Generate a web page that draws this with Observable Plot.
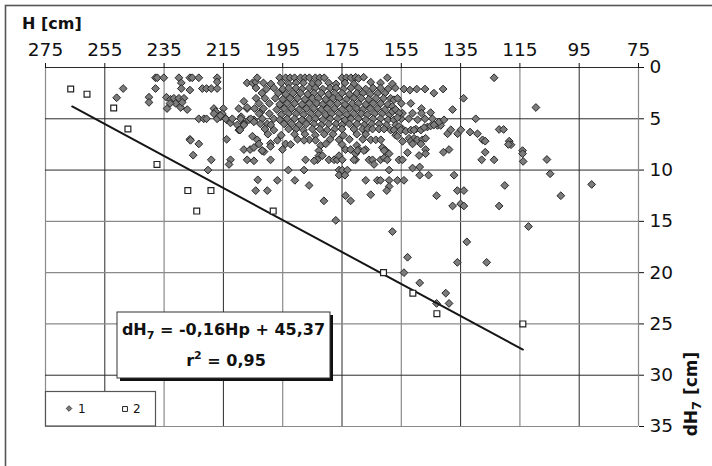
<!DOCTYPE html>
<html><head><meta charset="utf-8">
<script src="https://cdn.jsdelivr.net/npm/d3@7"></script>
<script src="https://cdn.jsdelivr.net/npm/@observablehq/plot@0.6"></script>
<style>body{margin:0;background:#fff} svg{display:block}</style>
</head><body><div id="chart"></div>
<script>
// ---- tick labels / grid ----
const xTicks = [275,255,235,215,195,175,155,135,115,95,75];
const yTicks = [0,5,10,15,20,25,30,35];
const xGridDark = [255,215,175,135,95];
const xGridLight = [275,235,195,155,115,75];
const yGridDark = [0,5,10,30];
const yGridLight = [15,20,25,35];

// ---- texts ----
const xLabel = "H [cm]";
const yLabelMain = "dH", yLabelSub = "7", yLabelTail = " [cm]";
const eqMain = "dH", eqSub = "7", eqTail = " = -0,16Hp + 45,37";
const r2Main = "r", r2Sup = "2", r2Tail = " = 0,95";
const legendNames = ["1", "2"];

// ---- series 2 (squares) [H, dH] ----
const series2 = [[266.5,2.1],[261,2.6],[252,3.95],[247.2,6.0],[237.4,9.45],[227,12.0],[219.2,12.0],[224,14.0],[198.2,14.0],[161,20.0],[151.1,22.0],[143,24.0],[114,25.0]];

// ---- trend line (read endpoints) ----
const trendH = [266, 114];
const trendDH = [3.8, 27.5];

// ---- series 1 (diamonds) [H, dH] ----
const series1Left = [
[251,2.95],[248.8,2.05],[240.1,2.9],[240.1,3.4],[237.9,1.0],[237.3,1.0],[235.1,1.0],[237.9,2.05],
[234.2,2.9],[234.0,4.0],[232.8,3.1],[231.7,3.0],[231.1,3.5],[230.0,3.0],[229.4,3.9],[228.3,3.0],[228.9,3.4],[233.0,3.5],
[230.0,1.0],[229.2,1.5],[229.2,2.05],[226.3,1.0],[225.5,1.0],[223.3,1.0],[226.3,2.2],[222.1,2.05],[220.7,2.05],[219.1,2.05],[217.1,2.05],[217.1,1.0],[217.1,1.4],
[227.2,4.1],[223.3,5.0],[221.6,5.0],[220.7,5.0],
[218.2,4.0],[217.6,4.3],[215.9,4.8],[215.0,4.0],[214.8,4.8],[217.1,5.0],[213.9,5.1],[212.6,5.4],[210.3,5.6],[209.8,6.1],[209.0,4.8],[209.8,4.0],[208.1,3.3],[207.0,4.0],[207.0,1.5],[205.2,1.5],[204.1,1.4],[203.6,1.0],
[218.2,4.5],[215.4,4.5],[216.0,4.7],[214.2,5.0],[212.0,5.0],[209.2,5.0],[208.1,5.5],
[206.4,5.1],[204.7,5.1],[208.1,5.6],[209.4,6.1],[205.2,6.7],[203.6,7.05],[205.8,5.0],[204.7,5.3],[201.9,5.0],[200.2,5.5],[202.4,4.35],[207.0,3.9],
[226.3,7.0],[223.3,7.45],[213.9,7.0],[226.1,7.1],[225.2,8.55],[219.1,9.0],[220.2,10.0],[212.6,9.0],[213.1,9.45],
[208.1,8.0],[206.0,8.0],[204.7,7.8],[207.0,9.0],[203.4,10.95],[204.1,12.0],[204.7,9.1],[201.3,8.2],[199.1,7.4],[199.1,9.0],[196.8,7.1],[195.1,8.0],[202.0,8.1]
];
const series1Core = [
[196,1],[194,1],[192.5,1],[191,1],[189,1],[187.5,1],[186,1],[184,1],[182.5,1],[181,1],[175,1],[173.5,1],[172,1],[170.4,0.95],[169.4,1.07],[167.7,0.95],[165.3,1.43],[159.7,1.0],
[201.5,1.5],[199,1.6],[195.5,1.5],[193,1.6],[190.5,1.5],[188,1.5],[185,1.6],[183,1.5],[179.5,1.5],[177,1.6],[174,1.5],[171,1.6],[162,1.5],[158,1.6],
[204,2],[200.5,2.1],[198,2],[195,2.1],[193,2],[190.5,2],[188.5,2.1],[186,2],[184,2],[181.5,2.1],[179,2],[177,2],[174.5,2.1],[172,2],[169.5,2],[167,2.1],[164.5,2],[162,2],[159.5,2.1],[157,2],
[202,2.5],[196.5,2.5],[194,2.6],[191.5,2.5],[189,2.5],[186.5,2.6],[184.5,2.5],[182,2.5],[179.5,2.6],[177.5,2.5],[175,2.5],[172.5,2.6],[170,2.5],[168,2.5],[165.5,2.6],[163,2.5],[160.5,2.5],
[204,3],[201,3],[197.5,3],[195,3.1],[192.5,3],[190,3],[187.5,3.1],[185,3],[183,3],[180.5,3.1],[178,3],[176,3],[173.5,3.1],[171,3],[168.5,3],[166,3.1],[163.5,3],[161,3],
[203,3.5],[199.5,3.5],[196,3.6],[193.5,3.5],[191,3.5],[188.5,3.6],[186,3.5],[183.5,3.5],[181.5,3.6],[179,3.5],[176.5,3.5],[174,3.6],[171.5,3.5],[169.5,3.5],[167,3.6],[164.5,3.5],[162,3.5],[159.5,3.6],[155,3.5],
[204.5,4],[201.5,4],[197,4.1],[194.5,4],[192,4],[189.5,4.1],[187,4],[184.5,4],[182,4.1],[180,4],[177.5,4],[175,4.1],[172.5,4],[170,4],[168,4.1],[165.5,4],[163,4],[160.5,4.1],
[203,4.5],[199.5,4.5],[195.5,4.6],[193,4.5],[190.5,4.5],[188,4.6],[185.5,4.5],[183,4.5],[180.5,4.6],[178.5,4.5],[176,4.5],[173.5,4.6],[171,4.5],[168.5,4.5],[166.5,4.6],[164,4.5],[161.5,4.5],[159,4.6],
[198,5],[196,5.1],[193.5,5],[191,5],[188.5,5.1],[186,5],[184,5],[181.5,5.1],[179,5],[176.5,5],[174,5.1],[172,5],[169.5,5],[167,5.1],[164.5,5],[162,5],[159.5,5.1],[155,5],[152.5,5],[149.5,5.1],[147,5],[144.5,5],
[202.5,5.5],[199,5.6],[194.5,5.5],[192,5.5],[189.5,5.6],[187,5.5],[184.5,5.5],[182,5.6],[179.5,5.5],[177,5.5],[175,5.6],[172.5,5.5],[170,5.5],[167.5,5.6],[165,5.5],[162.5,5.5],[160,5.6],
[201,6],[198,6.1],[193,6],[190.5,6],[188,6.1],[185,6],[182.5,6],[180,6.1],[177.5,6],[175,6],[171,6],[168.1,6],[166.4,6],[164.7,6],[162.5,6],[160.8,6],[158.6,6.1],[154.6,6],[150.1,6],[146.2,5.8],[142.8,5.65],[141.7,5.65],
[200,6.5],[195.5,6.6],[191,6.5],[187.5,6.5],[184,6.6],[181,6.5],[178,6.5],[174.5,6.6],[170,6.5],[167,6.5],
[190,7],[186,7.05],[179,7],[176,7.05],[172.5,7],[168,7],[165.3,7.05],[163.6,7.05],[161.9,7.05],
[175,7.5],[170,7.6]
];
const series1Mid = [
[203.0,7.45],[199.1,7.7],[201.9,8.1],[194.0,7.45],[192.3,7.5],[187.8,7.1],[183.9,7.1],[182.2,7.6],[180.5,7.45],[182.8,8.1],[182.8,8.6],[181.6,8.6],
[187.3,9.0],[183.3,9.0],[184.4,9.1],[179.4,9.0],[177.7,9.0],[176.6,9.0],[176.0,8.6],[174.9,9.0],[173.8,8.0],[172.1,8.0],[170.4,8.4],[169.3,8.0],[167.0,8.0],
[170.4,9.0],[165.9,9.0],[164.7,9.0],[164.2,9.45],[162.0,9.0],[160.8,8.8],[159.7,9.0],[161.4,7.8],[160.3,8.1],[159.1,8.4],
[169.8,8.1],[167.6,8.1],[160.8,8.1],[171.0,9.0],[155.8,9.0],[154.6,9.0],
[193.1,10.0],[187.8,10.0],[176.0,10.0],[174.9,10.0],[173.2,10.0],[159.1,10.0],[176.0,10.5],[174.0,10.5],
[196.8,11.0],[190.9,11.0],[186.1,11.5],[200.2,12.0],
[167.0,11.0],[163.1,11.0],[162.0,11.0],[159.1,11.0],[156.3,11.0],[154.1,11.0],[159.1,11.6],[159.9,12.0],[165.3,12.4],[173.8,12.5],[172.1,13.0],[181.1,13.0],[177.1,14.9]
];
const series1Right = [
[123.7,1.0],
[154.1,2.1],[152.1,2.2],[149.8,2.1],[147.0,2.1],[144.0,2.5],[140.9,2.1],
[134.0,3.0],[151.8,3.5],[148.2,4.0],[148.2,4.45],[145.1,4.4],[137.7,4.1],[129.9,5.0],[151.2,4.45],[154.6,4.45],[109.6,3.9],
[158.6,3.0],[157.5,3.15],[156.3,3.0],[158.0,3.8],[158.0,4.3],[156.9,4.1],[155.8,4.45],
[157.5,5.1],[156.3,4.9],[156.9,5.6],[155.8,5.75],[157.5,6.1],[155.2,6.1],[153.5,6.2],[151.8,6.1],[150.7,6.1],[148.4,6.1],[147.3,5.85],[145.1,5.7],[144.0,5.6],[142.3,5.3],[140.6,5.1],
[156.9,6.6],[156.3,6.7],[154.6,7.2],[152.4,6.9],[150.7,6.9],[151.8,7.2],[149.6,7.05],[147.9,7.05],[146.8,6.9],[151.2,7.45],[148.4,7.45],
[139.4,6.46],[138.3,6.07],[136.0,6.46],[134.9,6.07],[131.8,6.3],[129.3,6.46],[127.6,7.05],[126.7,7.18],[122.0,6.04],[120.5,6.04],[118.6,7.18],[118.0,7.53],[118.9,7.5],
[126.7,8.26],[127.9,9.0],[123.7,9.0],[114.1,8.1],[114.1,8.4],[113.9,9.16],[105.9,8.97],[104.8,10.36],[140.8,8.26],[138.9,8.0],
[152.9,8.3],[149.0,8.58],[146.8,8.0],[146.8,8.4],[151.2,9.8],[148.8,9.7],[148.8,10.5],[145.8,10.5]
];
const series1Low = [
[137.2,10.5],[136.1,12.0],[133.9,12.0],[135.0,13.3],[133.9,13.5],[137.7,13.5],[143.1,12.5],[122.0,13.5],[120.1,11.5],[90.8,11.4],[101.2,12.5],[112.1,15.5],
[132.9,17.0],[158.0,16.0],[152.9,18.5],[154.1,20.0],[136.1,19.0],[126.2,19.0],[148.8,21.0],[140.0,22.0],[143.1,23.0],[138.9,23.0]
];

// ---- build ----
const rows = a => a.map(([H, dH]) => ({H, dH}));
const diamonds = rows([...series1Left, ...series1Core, ...series1Mid, ...series1Right, ...series1Low]);
const squares = rows(series2);
const trend = trendH.map((H, i) => ({H, dH: trendDH[i]}));

const plot = Plot.plot({
  width: 712, height: 466,
  marginLeft: 45, marginRight: 74, marginTop: 67, marginBottom: 40,
  style: {fontFamily: "DejaVu Sans", fontSize: "18.5px", background: "white", overflow: "hidden", color: "#111"},
  x: {domain: [275, 75]},
  y: {domain: [0, 35], reverse: true},
  marks: [
    Plot.ruleX(xGridLight, {stroke: "#8a8a8a", strokeWidth: 1.2}),
    Plot.ruleX(xGridDark, {stroke: "#2a2a2a", strokeWidth: 1}),
    Plot.ruleY(yGridLight, {stroke: "#8a8a8a", strokeWidth: 1.2}),
    Plot.ruleY(yGridDark, {stroke: "#2a2a2a", strokeWidth: 1}),
    Plot.axisX(xTicks, {anchor: "top", tickSize: 5, tickPadding: 7, label: null, tickFormat: d => String(d)}),
    Plot.axisY(yTicks, {anchor: "right", tickSize: 5, tickPadding: 6, label: null, tickFormat: d => String(d)}),
    Plot.dot(diamonds, {x: "H", y: "dH", symbol: "diamond2", r: 3.5, fill: "#7c7c7c", stroke: "#262626", strokeWidth: 1}),
    Plot.line(trend, {x: "H", y: "dH", stroke: "#151515", strokeWidth: 2}),
    Plot.dot(squares, {x: "H", y: "dH", symbol: "square", r: 3.3, fill: "white", stroke: "#222", strokeWidth: 1.2})
  ]
});
document.getElementById("chart").appendChild(plot);

const svg = d3.select(plot);
const FONT = "DejaVu Sans";

// outer frame
svg.append("rect").attr("x", 5.5).attr("y", 5.5).attr("width", 760).attr("height", 520)
  .attr("fill", "none").attr("stroke", "#555").attr("stroke-width", 1.6);

// x label
svg.append("text").attr("x", 22).attr("y", 29).attr("text-anchor", "start").attr("font-family", FONT).attr("font-weight", "bold")
  .attr("font-size", 16).attr("fill", "#111").text(xLabel);

// y label (rotated, right)
const yl = svg.append("text").attr("transform", "translate(697,394) rotate(-90)").attr("text-anchor", "middle")
  .attr("font-family", FONT).attr("font-weight", "bold").attr("font-size", 17).attr("fill", "#111");
yl.append("tspan").text(yLabelMain);
yl.append("tspan").attr("font-size", 13).attr("dy", 4).text(yLabelSub);
yl.append("tspan").attr("dy", -4).text(yLabelTail);

// equation box
const eq = svg.append("g");
eq.append("rect").attr("x", 120).attr("y", 315).attr("width", 213).attr("height", 66).attr("fill", "#111");
eq.append("rect").attr("x", 117).attr("y", 312).attr("width", 213).attr("height", 66).attr("fill", "white")
  .attr("stroke", "#333").attr("stroke-width", 1);
const t1 = eq.append("text").attr("x", 223.5).attr("y", 335).attr("text-anchor", "middle")
  .attr("font-family", FONT).attr("font-weight", "bold").attr("font-size", 16).attr("fill", "#111");
t1.append("tspan").text(eqMain);
t1.append("tspan").attr("font-size", 11).attr("dy", 4).text(eqSub);
t1.append("tspan").attr("dy", -4).text(eqTail);
const t2 = eq.append("text").attr("x", 226).attr("y", 366).attr("text-anchor", "middle")
  .attr("font-family", FONT).attr("font-weight", "bold").attr("font-size", 16).attr("fill", "#111");
t2.append("tspan").text(r2Main);
t2.append("tspan").attr("font-size", 11).attr("dy", -7).text(r2Sup);
t2.append("tspan").attr("dy", 7).text(r2Tail);

// legend
const lg = svg.append("g");
lg.append("rect").attr("x", 45.5).attr("y", 391.5).attr("width", 110).attr("height", 34.5)
  .attr("fill", "white").attr("stroke", "#555").attr("stroke-width", 1.2);
lg.append("path").attr("transform", "translate(69,408.5)").attr("d", d3.symbol(d3.symbolDiamond2, 20)())
  .attr("fill", "#7c7c7c").attr("stroke", "#262626").attr("stroke-width", 0.8);
lg.append("text").attr("x", 78).attr("y", 413).attr("text-anchor", "start").attr("font-family", FONT).attr("font-size", 12).attr("fill", "#111").text(legendNames[0]);
lg.append("path").attr("transform", "translate(125,409)").attr("d", d3.symbol(d3.symbolSquare, 24)())
  .attr("fill", "white").attr("stroke", "#222").attr("stroke-width", 1);
lg.append("text").attr("x", 133).attr("y", 413).attr("text-anchor", "start").attr("font-family", FONT).attr("font-size", 12).attr("fill", "#111").text(legendNames[1]);
</script>
</body></html>
